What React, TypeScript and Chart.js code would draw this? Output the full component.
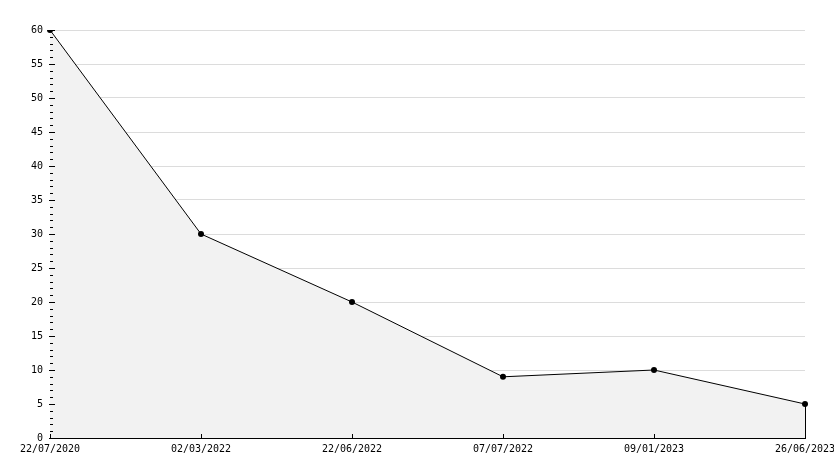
import React, { useEffect, useRef } from "react";
import { Chart, registerables } from "chart.js";

Chart.register(...registerables);

const categories = ["22/07/2020", "02/03/2022", "22/06/2022", "07/07/2022", "09/01/2023", "26/06/2023"];
const values = [60, 30, 20, 9, 10, 5];
const yMin = 0;
const yMax = 60;
const yStep = 5;

const FONT = "'DejaVu Sans Mono', monospace";

const ticksPlugin = {
  id: "customTicks",
  afterDatasetsDraw(chart: any) {
    const ctx = chart.ctx;
    const x = chart.scales.x;
    const y = chart.scales.y;
    const area = chart.chartArea;
    ctx.save();
    ctx.strokeStyle = "#000";
    ctx.lineWidth = 1;
    ctx.beginPath();
    for (let v = yMin; v <= yMax; v += 1) {
      const py = Math.round(y.getPixelForValue(v)) + 0.5;
      const major = v % yStep === 0;
      ctx.moveTo(area.left - (major ? 1 : 0), py);
      ctx.lineTo(area.left + (major ? 5 : 3), py);
    }
    for (let i = 0; i < categories.length; i++) {
      const px = Math.round(x.getPixelForValue(i)) + 0.5;
      ctx.moveTo(px, area.bottom);
      ctx.lineTo(px, area.bottom - 4);
    }
    const lastX = Math.round(x.getPixelForValue(categories.length - 1)) + 0.5;
    ctx.moveTo(lastX, y.getPixelForValue(values[values.length - 1]));
    ctx.lineTo(lastX, area.bottom);
    ctx.stroke();
    ctx.restore();
  },
};

export default function App() {
  const ref = useRef<HTMLCanvasElement>(null);
  useEffect(() => {
    document.body.style.margin = "0";
    const chart = new Chart(ref.current!, {
      type: "line",
      data: {
        labels: categories,
        datasets: [
          {
            data: values,
            borderColor: "#000",
            borderWidth: 1,
            backgroundColor: "#f2f2f2",
            fill: "origin",
            tension: 0,
            pointStyle: "circle",
            pointRadius: 3,
            pointBackgroundColor: "#000",
            pointBorderColor: "#000",
            pointBorderWidth: 0,
          },
        ],
      },
      options: {
        animation: false,
        responsive: false,
        maintainAspectRatio: false,
        layout: { padding: { top: 30, right: 29, left: 0, bottom: 0 } },
        plugins: { legend: { display: false }, tooltip: { enabled: false } },
        scales: {
          x: {
            type: "category",
            offset: false,
            grid: { display: false, drawTicks: false },
            border: { color: "#000", width: 1 },
            ticks: {
              color: "#000",
              font: { family: FONT, size: 10 },
              padding: 5,
              maxRotation: 0,
              autoSkip: false,
            },
            afterFit(scale: any) {
              scale.height = 30;
              scale.paddingLeft = 0;
              scale.paddingRight = 0;
            },
          },
          y: {
            min: yMin,
            max: yMax,
            grid: { color: "#dcdcdc", drawTicks: false },
            border: { color: "#000", width: 1 },
            ticks: {
              stepSize: yStep,
              color: "#000",
              font: { family: FONT, size: 10 },
              padding: 7,
            },
            afterFit(scale: any) {
              scale.width = 50;
              scale.paddingTop = 0;
              scale.paddingBottom = 0;
            },
          },
        },
      },
      plugins: [ticksPlugin],
    });
    return () => chart.destroy();
  }, []);
  return (
    <div style={{ position: "fixed", left: 0, top: 0, width: 834, height: 468 }}>
      <canvas ref={ref} width={834} height={468} style={{ width: 834, height: 468, display: "block" }} />
    </div>
  );
}
